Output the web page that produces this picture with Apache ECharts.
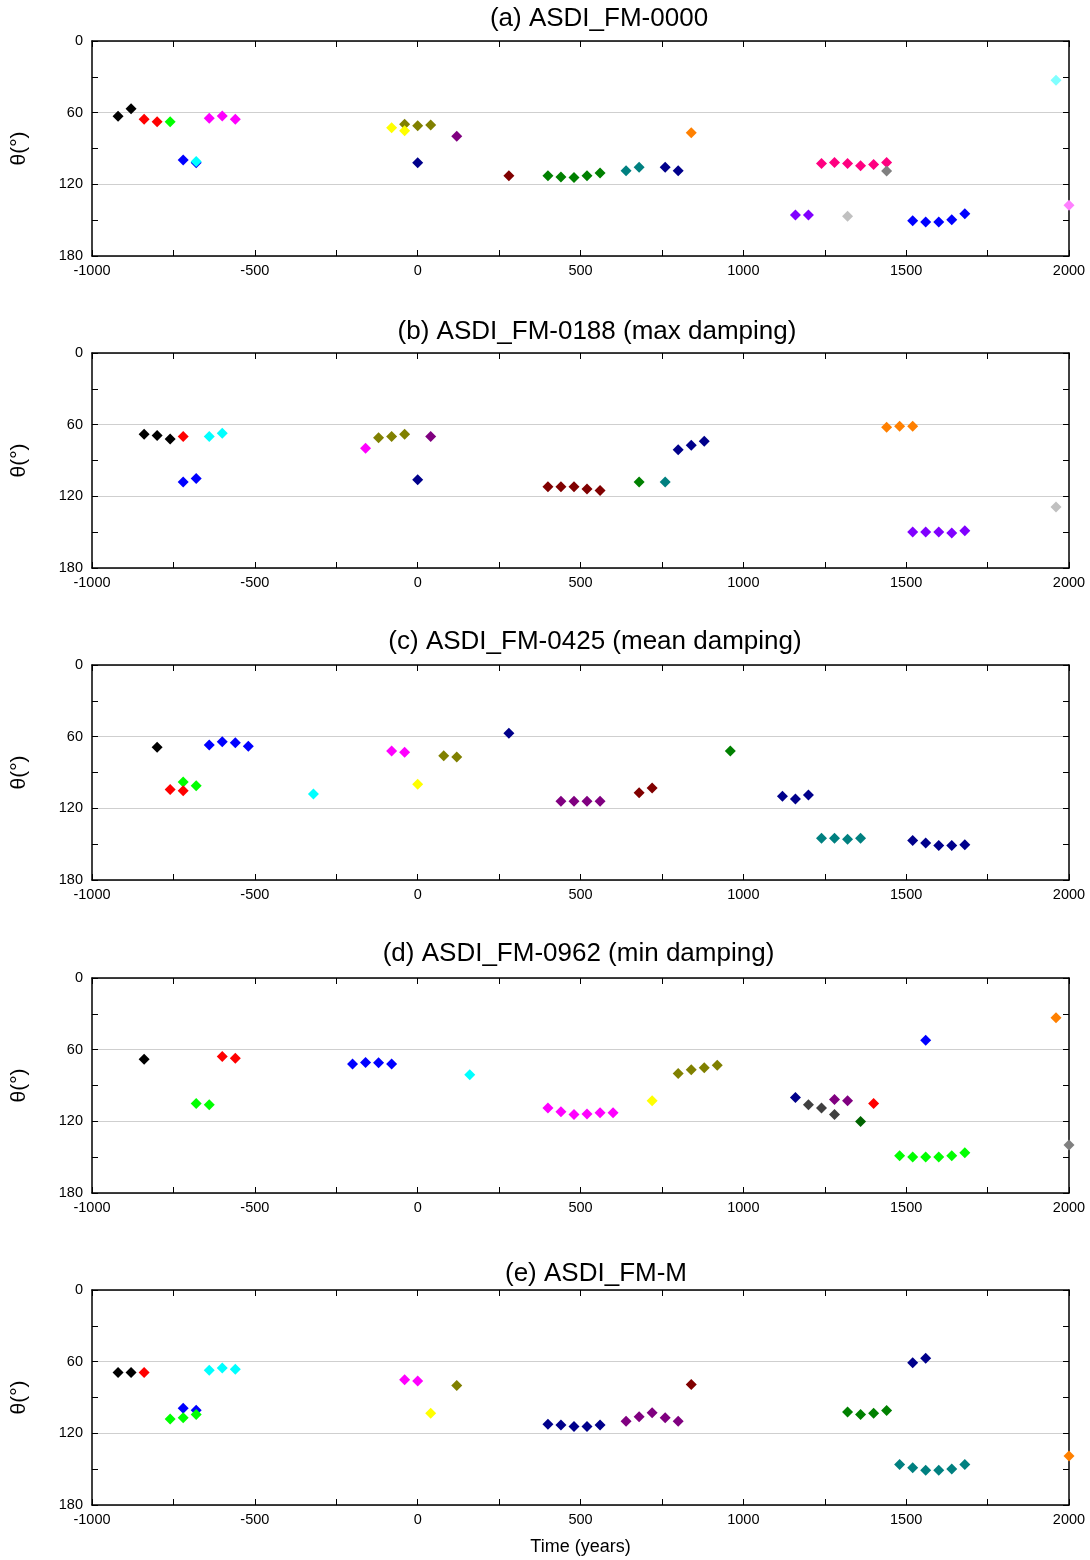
<!DOCTYPE html>
<html>
<head>
<meta charset="utf-8">
<script src="https://cdn.jsdelivr.net/npm/echarts@6/dist/echarts.min.js"></script>
<style>
html,body{margin:0;padding:0;background:#fff;}
#chart{width:1090px;height:1560px;}
</style>
</head>
<body>
<div id="chart"></div>
<script>
// ---------- DATA ----------
const titles = ['(a) ASDI_FM-0000', '(b) ASDI_FM-0188 (max damping)', '(c) ASDI_FM-0425 (mean damping)', '(d) ASDI_FM-0962 (min damping)', '(e) ASDI_FM-M'];
const xTicks = [-1000, -500, 0, 500, 1000, 1500, 2000];
const yTicks = [0, 60, 120, 180];
const xName = 'Time (years)';
const yName = 'θ(°)';

// Panel (a)
const aYears = [[-920,-880],[-840,-800],[-760],[-720,-680],[-680],[-640,-600,-560],[-40,0,40],[-80,-40],[120],[0],[280],[400,440,480,520,560],[640,680],[760,800],[840],[1240,1280,1320,1360,1400,1440],[1440],[1160,1200],[1320],[1520,1560,1600,1640,1680],[1960],[2000]];
const aTheta = [[63.0,56.8],[65.5,67.7],[67.7],[99.7,102.0],[100.8],[64.6,62.7,65.5],[69.6,71.0,70.4],[72.7,75.2],[79.7],[102.0],[112.8],[112.8,113.9,114.2,112.8,110.6],[108.6,105.6],[105.6,108.6],[76.9],[102.5,101.7,102.5,104.5,103.4,101.7],[108.9],[145.7,145.7],[146.8],[150.4,151.6,151.6,149.6,144.6],[32.9],[137.6]];
const aColors = ['#000000','#ff0000','#00ff00','#0000ff','#00ffff','#ff00ff','#808000','#ffff00','#800080','#00008b','#800000','#008000','#008080','#00008b','#ff8000','#ff0080','#808080','#8000ff','#c0c0c0','#0000ff','#80ffff','#ff80ff'];

// Panel (b)
const bYears = [[-840,-800,-760],[-720],[-640,-600],[-720,-680],[-160],[-120,-80,-40],[40],[0],[400,440,480,520,560],[680],[760],[800,840,880],[1440,1480,1520],[1520,1560,1600,1640,1680],[1960]];
const bTheta = [[68.0,69.1,71.9],[69.9],[69.9,67.1],[108.1,105.0],[79.7],[71.0,69.9,68.0],[69.9],[106.1],[112.0,112.0,112.0,113.9,115.1],[108.1],[108.1],[81.1,77.2,73.8],[62.1,61.3,61.3],[149.9,149.9,149.9,150.7,148.8],[129.0]];
const bColors = ['#000000','#ff0000','#00ffff','#0000ff','#ff00ff','#808000','#800080','#00008b','#800000','#008000','#008080','#00008b','#ff8000','#8000ff','#c0c0c0'];

// Panel (c)
const cYears = [[-800],[-720,-680],[-760,-720],[-640,-600,-560,-520],[-320],[-80,-40],[0],[80,120],[280],[440,480,520,560],[680,720],[960],[1120,1160,1200],[1240,1280,1320,1360],[1520,1560,1600,1640,1680]];
const cTheta = [[68.9],[97.9,101.0],[104.3,105.2],[67.0,64.2,65.0,68.1],[108.0],[72.0,73.1],[99.9],[75.9,77.0],[57.2],[114.1,114.1,114.1,114.1],[106.9,102.9],[72.0],[109.9,112.2,108.8],[145.1,145.1,145.9,145.1],[147.0,149.0,151.2,151.2,150.4]];
const cColors = ['#000000','#00ff00','#ff0000','#0000ff','#00ffff','#ff00ff','#ffff00','#808000','#00008b','#800080','#800000','#008000','#00008b','#008080','#00008b'];

// Panel (d)
const dYears = [[-840],[-680,-640],[-600,-560],[-200,-160,-120,-80],[160],[400,440,480,520,560,600],[720],[800,840,880,920],[1160],[1200,1240,1280],[1280,1320],[1360],[1400],[1480,1520,1560,1600,1640,1680],[1560],[1960],[2000]];
const dTheta = [[68.0],[105.0,106.1],[65.8,67.1],[71.9,70.8,71.0,71.9],[81.1],[108.9,112.0,114.2,113.9,112.8,112.8],[102.8],[80.0,76.9,75.2,73.0],[100.0],[106.1,108.9,114.2],[101.7,102.8],[120.1],[105.0],[148.8,149.9,149.9,149.9,148.8,146.3],[52.1],[33.2],[139.9]];
const dColors = ['#000000','#00ff00','#ff0000','#0000ff','#00ffff','#ff00ff','#ffff00','#808000','#00008b','#404040','#800080','#006400','#ff0000','#00ff00','#0000ff','#ff8000','#808080'];

// Panel (e)
const eYears = [[-920,-880],[-840],[-720,-680],[-760,-720,-680],[-640,-600,-560],[-40,0],[40],[120],[400,440,480,520,560],[640,680,720,760,800],[840],[1320,1360,1400,1440],[1520,1560],[1480,1520,1560,1600,1640,1680],[2000]];
const eTheta = [[69.1,69.1],[69.1],[98.9,100.6],[108.1,107.0,104.2],[67.1,65.2,66.3],[75.2,76.1],[103.1],[80.0],[112.3,113.1,114.2,114.2,113.1],[109.8,106.1,102.8,107.0,109.8],[79.1],[102.2,104.2,103.1,100.9],[61.0,57.1],[146.0,148.8,151.0,151.0,149.9,146.0],[139.0]];
const eColors = ['#000000','#ff0000','#0000ff','#00ff00','#00ffff','#ff00ff','#ffff00','#808000','#00008b','#800080','#800000','#008000','#00008b','#008080','#ff8000'];

// ---------- LAYOUT / STYLE ----------
const panels = [
  {years: aYears, theta: aTheta, colors: aColors},
  {years: bYears, theta: bTheta, colors: bColors},
  {years: cYears, theta: cTheta, colors: cColors},
  {years: dYears, theta: dTheta, colors: dColors},
  {years: eYears, theta: eTheta, colors: eColors}
];
const gridTops = [41, 353, 665, 978, 1290];
const gridH = 215;
const titlePos = [[599, 6], [597, 318.5], [595, 629], [578.5, 940.7], [596, 1260.7]];
const FONT = '"Liberation Sans", Arial, Helvetica, sans-serif';

const chart = echarts.init(document.getElementById('chart'), null, {renderer: 'canvas'});

const grid = [], xAxis = [], yAxis = [], series = [], title = [];
const lineStyle = {color: '#000', width: 1.5};
const tickStyle = {color: '#000', width: 1};
const plain = v => String(v);

panels.forEach((p, i) => {
  grid.push({left: 92, right: 21, top: gridTops[i], height: gridH, containLabel: false});
  title.push({
    text: titles[i], left: titlePos[i][0], top: titlePos[i][1], textAlign: 'center', padding: 0,
    textStyle: {fontFamily: FONT, fontSize: 26, fontWeight: 'normal', color: '#000'}
  });
  const xBase = {
    gridIndex: i, type: 'value', min: xTicks[0], max: xTicks[xTicks.length - 1], interval: xTicks[1] - xTicks[0],
    axisLine: {show: true, onZero: false, lineStyle: lineStyle},
    axisTick: {show: true, inside: true, length: 6, lineStyle: tickStyle},
    minorTick: {show: true, splitNumber: 2, length: 6, lineStyle: tickStyle},
    splitLine: {show: false}
  };
  xAxis.push(Object.assign({}, xBase, {
    position: 'bottom',
    axisLabel: {show: true, fontFamily: FONT, fontSize: 14.5, color: '#000', margin: 7, formatter: plain},
    name: i === panels.length - 1 ? xName : '',
    nameLocation: 'middle', nameGap: 33,
    nameTextStyle: {fontFamily: FONT, fontSize: 18, color: '#000'}
  }));
  xAxis.push(Object.assign({}, xBase, {position: 'top', axisLabel: {show: false}}));
  const yBase = {
    gridIndex: i, type: 'value', inverse: true, min: yTicks[0], max: yTicks[yTicks.length - 1], interval: yTicks[1] - yTicks[0],
    axisLine: {show: true, onZero: false, lineStyle: lineStyle},
    axisTick: {show: true, inside: true, length: 6, lineStyle: tickStyle},
    minorTick: {show: true, splitNumber: 2, length: 6, lineStyle: tickStyle}
  };
  yAxis.push(Object.assign({}, yBase, {
    position: 'left',
    axisLabel: {show: true, fontFamily: FONT, fontSize: 14.5, color: '#000', margin: 9, formatter: plain},
    splitLine: {show: true, lineStyle: {color: '#cfcfcf', width: 1.2}},
    name: yName, nameLocation: 'middle', nameGap: 62, nameRotate: 90,
    nameTextStyle: {fontFamily: FONT, fontSize: 21, color: '#000'}
  }));
  yAxis.push(Object.assign({}, yBase, {position: 'right', axisLabel: {show: false}, splitLine: {show: false}}));

  p.years.forEach((ys, k) => {
    series.push({
      type: 'scatter',
      xAxisIndex: 2 * i, yAxisIndex: 2 * i,
      symbol: 'diamond', symbolSize: 11,
      clip: true,
      itemStyle: {color: p.colors[k], opacity: 1},
      emphasis: {disabled: true},
      data: ys.map((x, j) => [x, p.theta[k][j]])
    });
  });
});

chart.setOption({
  animation: false,
  backgroundColor: '#ffffff',
  title: title,
  grid: grid,
  xAxis: xAxis,
  yAxis: yAxis,
  series: series
});
</script>
</body>
</html>
